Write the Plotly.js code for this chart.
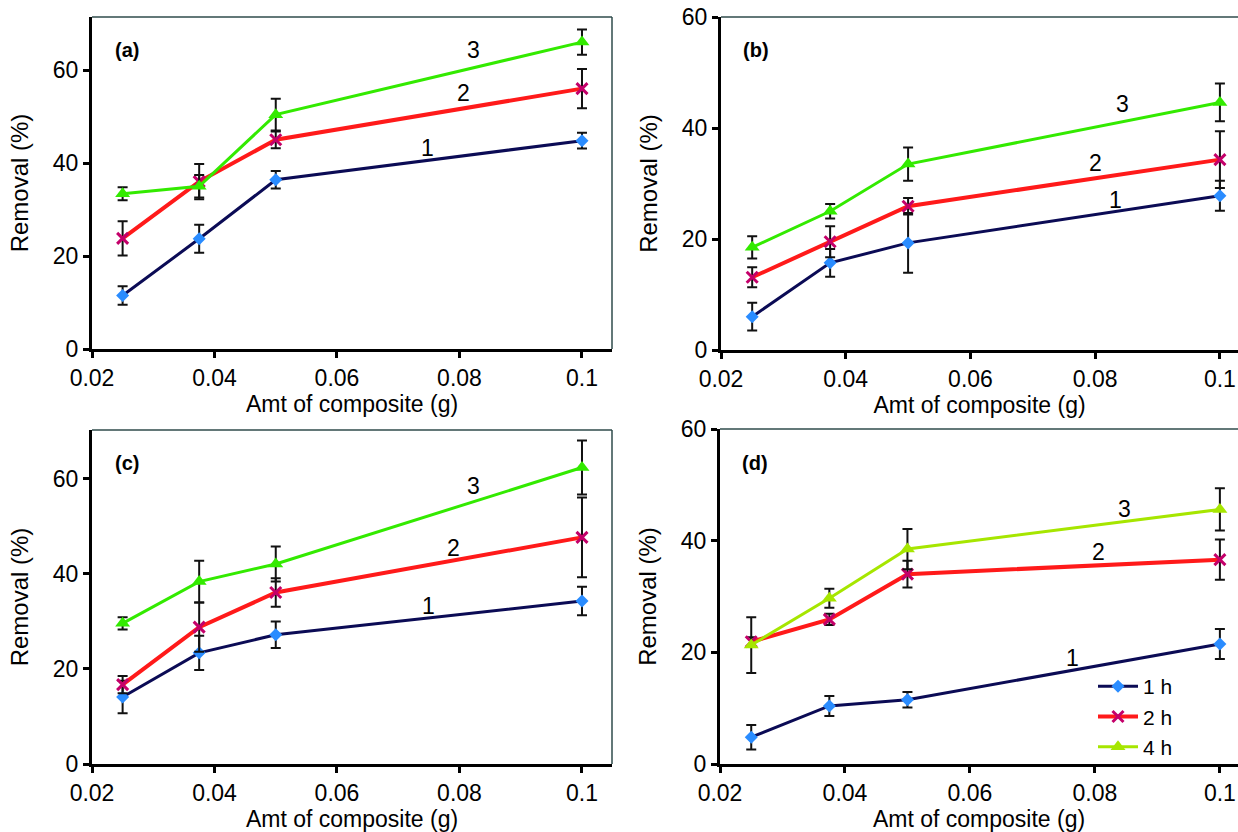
<!DOCTYPE html>
<html>
<head>
<meta charset="utf-8">
<script src="https://cdn.plot.ly/plotly-3.0.1.min.js"></script>
<style>
html,body{margin:0;padding:0;background:#fff;overflow:hidden;}
#chart{width:1238px;height:832px;}
</style>
</head>
<body>
<div id="chart"></div>
<script>
// ---------- data ----------
const amounts = [0.025, 0.0375, 0.05, 0.1];
const seriesNames = ["1 h", "2 h", "4 h"];
const curveLabels = ["1", "2", "3"];
const panelLabels = ["(a)", "(b)", "(c)", "(d)"];
const xTickVals = [0.02, 0.04, 0.06, 0.08, 0.1];
const xTickText = ["0.02", "0.04", "0.06", "0.08", "0.1"];
const yTickVals = [0, 20, 40, 60];

// panel (a)
const a1h = [11.5, 23.7, 36.4, 44.8];  const a1hErr = [2.0, 3.0, 1.9, 1.7];
const a2h = [23.8, 36.0, 45.0, 56.0];  const a2hErr = [3.7, 3.8, 1.8, 4.2];
const a4h = [33.4, 35.0, 50.4, 66.0];  const a4hErr = [1.4, 2.4, 3.4, 2.7];
// panel (b)
const b1h = [6.0, 15.7, 19.3, 27.8];   const b1hErr = [2.5, 2.5, 5.4, 2.7];
const b2h = [13.1, 19.5, 25.9, 34.3];  const b2hErr = [1.8, 2.8, 1.5, 5.1];
const b4h = [18.5, 25.0, 33.5, 44.6];  const b4hErr = [2.0, 1.3, 3.0, 3.4];
// panel (c)
const c1h = [14.1, 23.4, 27.2, 34.3];  const c1hErr = [3.4, 3.6, 2.8, 3.0];
const c2h = [16.7, 28.8, 36.1, 47.7];  const c2hErr = [1.8, 5.2, 3.0, 8.4];
const c4h = [29.6, 38.4, 42.1, 62.4];  const c4hErr = [1.3, 4.4, 3.7, 5.7];
// panel (d)
const d1h = [4.8, 10.4, 11.5, 21.5];   const d1hErr = [2.2, 1.8, 1.4, 2.7];
const d2h = [21.9, 25.9, 34.0, 36.6];  const d2hErr = [0.8, 1.0, 2.4, 3.6];
const d4h = [21.3, 29.7, 38.5, 45.6];  const d4hErr = [5.0, 1.7, 3.6, 3.8];

// curve label positions [x, y] per panel
const aLabelPos = [[0.0748, 43.3], [0.0806, 55.1], [0.0823, 64.3]];
const bLabelPos = [[0.0832, 27.1], [0.0800, 33.7], [0.0844, 44.3]];
const cLabelPos = [[0.0749, 33.2], [0.0791, 45.4], [0.0823, 58.6]];
const dLabelPos = [[0.0764, 18.9], [0.0806, 37.9], [0.0848, 45.6]];

// ---------- layout helpers ----------
const W = 1238, H = 832;
const px = v => v / W;
const py = v => 1 - v / H;

const panels = [
  {vals: [a1h, a2h, a4h], errs: [a1hErr, a2hErr, a4hErr], lab: aLabelPos,
   xd: [px(92), px(612)], yd: [py(349), py(17)], xr: [0.02, 0.1049], yr: [0, 71.4], right: true, green: "#33ea00"},
  {vals: [b1h, b2h, b4h], errs: [b1hErr, b2hErr, b4hErr], lab: bLabelPos,
   xd: [px(721), 1], yd: [py(350), py(17)], xr: [0.02, 0.1029], yr: [0, 60], right: false, green: "#33ea00"},
  {vals: [c1h, c2h, c4h], errs: [c1hErr, c2hErr, c4hErr], lab: cLabelPos,
   xd: [px(92), px(612)], yd: [py(764), py(430)], xr: [0.02, 0.1049], yr: [0, 70.3], right: true, green: "#33ea00"},
  {vals: [d1h, d2h, d4h], errs: [d1hErr, d2hErr, d4hErr], lab: dLabelPos,
   xd: [px(720), 1], yd: [py(764), py(429)], xr: [0.02, 0.1029], yr: [0, 60], right: false, green: "#a6e600"}
];

const FONT = "Liberation Sans, Arial, sans-serif";
const TXT = "#000";
const lineColors = ["#0b0b55", "#ff1a1a", null];
const markerStyles = [
  {symbol: "diamond", color: "#2a8cff", size: 10, lw: 0},
  {symbol: "x-thin", color: "#c4006a", size: 11, lw: 3},
  {symbol: "triangle-up", color: null, size: 13, lw: 0}
];

const traces = [];
const layout = {
  width: W, height: H,
  margin: {l: 0, r: 0, t: 0, b: 0},
  paper_bgcolor: "#fff", plot_bgcolor: "#fff",
  font: {family: FONT, size: 23, color: TXT},
  showlegend: true,
  legend: {x: px(1093), y: py(666), xanchor: "left", yanchor: "top",
           bgcolor: "rgba(0,0,0,0)", font: {family: FONT, size: 21, color: TXT},
           tracegroupgap: 0, itemwidth: 40},
  annotations: [], shapes: []
};

panels.forEach((p, i) => {
  const n = i + 1;
  const xa = "xaxis" + (n === 1 ? "" : n), ya = "yaxis" + (n === 1 ? "" : n);
  const xr = "x" + (n === 1 ? "" : n), yr = "y" + (n === 1 ? "" : n);
  layout[xa] = {
    domain: p.xd, range: p.xr, anchor: yr, showgrid: false, zeroline: false,
    showline: true, linecolor: "#000", linewidth: 3, ticks: "outside", ticklen: 6, tickwidth: 3, tickcolor: "#000",
    tickvals: xTickVals, ticktext: xTickText, tickfont: {family: FONT, size: 23, color: TXT},
    title: {text: "Amt of composite (g)", font: {family: FONT, size: 23, color: TXT}, standoff: 2},
    automargin: false
  };
  layout[ya] = {
    domain: p.yd, range: p.yr, anchor: xr, showgrid: false, zeroline: false,
    showline: true, linecolor: "#000", linewidth: 3, ticks: "outside", ticklen: 6, tickwidth: 3, tickcolor: "#000",
    tickvals: yTickVals, tickfont: {family: FONT, size: 23, color: TXT},
    title: {text: "Removal (%)", font: {family: FONT, size: 24, color: TXT}, standoff: 18},
    automargin: false
  };
  // thin top / right frame
  layout.shapes.push({type: "line", xref: xr + " domain", yref: yr + " domain", x0: 0, x1: p.right ? 1 : 1.02, y0: 1, y1: 1,
                      line: {color: "#2f4b4b", width: 1.5}});
  if (p.right) {
    layout.shapes.push({type: "line", xref: xr + " domain", yref: yr + " domain", x0: 1, x1: 1, y0: 0, y1: 1,
                        line: {color: "#2f4b4b", width: 1.5}});
  }
  p.vals.forEach((vals, s) => {
    const lc = s === 2 ? p.green : lineColors[s];
    const ms = markerStyles[s];
    const mc = ms.color || p.green;
    traces.push({
      type: "scatter", mode: "lines+markers", name: seriesNames[s],
      x: amounts, y: vals, xaxis: xr, yaxis: yr,
      showlegend: n === 4,
      line: {color: lc, width: s === 1 ? 4 : 3},
      marker: {symbol: ms.symbol, size: ms.size, color: mc, line: {width: ms.lw, color: mc}},
      error_y: {type: "data", array: p.errs[s], visible: true, color: "#111", thickness: 2, width: 5}
    });
    layout.annotations.push({
      xref: xr, yref: yr, x: p.lab[s][0], y: p.lab[s][1], text: curveLabels[s], showarrow: false,
      xanchor: "center", yanchor: "middle",
      font: {family: FONT, size: 23, color: TXT}
    });
  });
  layout.annotations.push({
    xref: xr + " domain", yref: yr + " domain", x: 0.068, y: 0.9, text: "<b>" + panelLabels[i] + "</b>",
    xanchor: "center", yanchor: "middle",
    showarrow: false, font: {family: FONT, size: 20, color: TXT}
  });
});

Plotly.newPlot("chart", traces, layout, {displayModeBar: false, staticPlot: true});
</script>
</body>
</html>
